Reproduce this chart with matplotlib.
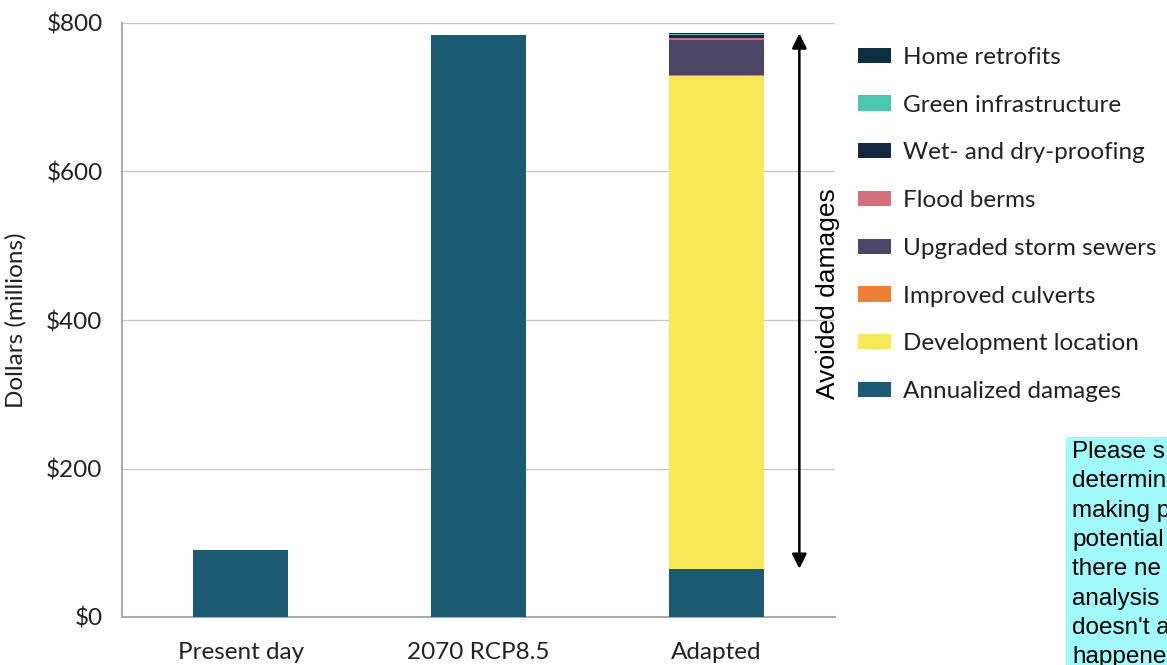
import matplotlib
matplotlib.use('Agg')
import matplotlib.pyplot as plt
from matplotlib.patches import Rectangle
import numpy as np

plt.rcParams['font.family'] = ['Lato', 'DejaVu Sans']

# data (millions of dollars)
scenarios = ['Present day', '2070 RCP8.5', 'Adapted']
layers = ['Annualized damages', 'Development location', 'Improved culverts',
          'Upgraded storm sewers', 'Flood berms', 'Wet- and dry-proofing',
          'Green infrastructure', 'Home retrofits']
values = {
    'Annualized damages':    [90, 784, 65],
    'Development location':  [0, 0, 664],
    'Improved culverts':     [0, 0, 0.4],
    'Upgraded storm sewers': [0, 0, 48],
    'Flood berms':           [0, 0, 3],
    'Wet- and dry-proofing': [0, 0, 3.5],
    'Green infrastructure':  [0, 0, 1.5],
    'Home retrofits':        [0, 0, 0.5],
}
colors = {
    'Annualized damages':    '#1a5a72',
    'Development location':  '#f7e858',
    'Improved culverts':     '#ef7f34',
    'Upgraded storm sewers': '#4d4566',
    'Flood berms':           '#d4707a',
    'Wet- and dry-proofing': '#152a40',
    'Green infrastructure':  '#4ac7b0',
    'Home retrofits':        '#0c2f42',
}
yticks = [0, 200, 400, 600, 800]
# note box is cut off by the right edge in the original
note_lines = ['Please s', 'determin', 'making p', 'potential', 'there ne',
              'analysis', "doesn't a", 'happene']

W, H = 1167, 665
fig = plt.figure(figsize=(W / 100, H / 100), dpi=100)
ax = fig.add_axes([122 / W, 48 / H, 713 / W, 594 / H])

x = np.arange(len(scenarios))
bottom = np.zeros(len(scenarios))
handles = {}
for name in layers:
    v = np.array(values[name], dtype=float)
    h = ax.bar(x, v, width=0.4, bottom=bottom, color=colors[name], zorder=3, label=name)
    handles[name] = h
    bottom += v

# avoided damages arrow
lo = values['Annualized damages'][2]
hi = bottom[2]
ax.annotate('', xy=(2.35, hi), xytext=(2.35, lo),
            arrowprops=dict(arrowstyle='<|-|>', color='black', lw=1.8,
                            mutation_scale=22, shrinkA=0, shrinkB=0), zorder=4)
ax.text(2.47, (lo + hi) / 2 + 10, 'Avoided damages', rotation=90, ha='center', va='center',
        fontsize=19, family='Liberation Sans')

ax.set_xlim(-0.5, 2.5)
ax.set_ylim(0, 800)
ax.set_yticks(yticks)
ax.set_yticklabels(['$%d' % t for t in yticks])
ax.set_xticks(x)
ax.set_xticklabels(scenarios)
ax.tick_params(length=0, labelsize=17.5, colors='#222222', pad=14)
ax.tick_params(axis='x', pad=18)
ax.set_ylabel('Dollars (millions)', fontsize=17.5, color='#222222', labelpad=14)
ax.grid(axis='y', color='#c8c8c8', lw=1, zorder=0)
for s in ['top', 'right']:
    ax.spines[s].set_visible(False)
for s in ['left', 'bottom']:
    ax.spines[s].set_color('#aaaaaa')
    ax.spines[s].set_linewidth(1.5)

order = layers[::-1]
leg = fig.legend([handles[n] for n in order], order, loc='upper left',
                 bbox_to_anchor=(836 / W, 1 - 25 / H), frameon=False,
                 fontsize=17.5, handlelength=1.35, handleheight=0.6, handletextpad=0.5,
                 labelspacing=1.1, labelcolor='#222222')

fig.patches.append(Rectangle((1066 / W, 0), (W - 1066) / W, (H - 437) / H,
                             transform=fig.transFigure, facecolor='#a0fafa',
                             edgecolor='none', zorder=1))
fig.text(1072 / W, 1 - 441 / H, '\n'.join(note_lines), family='Liberation Sans',
         fontsize=17.5, va='top', ha='left', linespacing=1.43, zorder=2)

fig.savefig('out.png', dpi=100)
